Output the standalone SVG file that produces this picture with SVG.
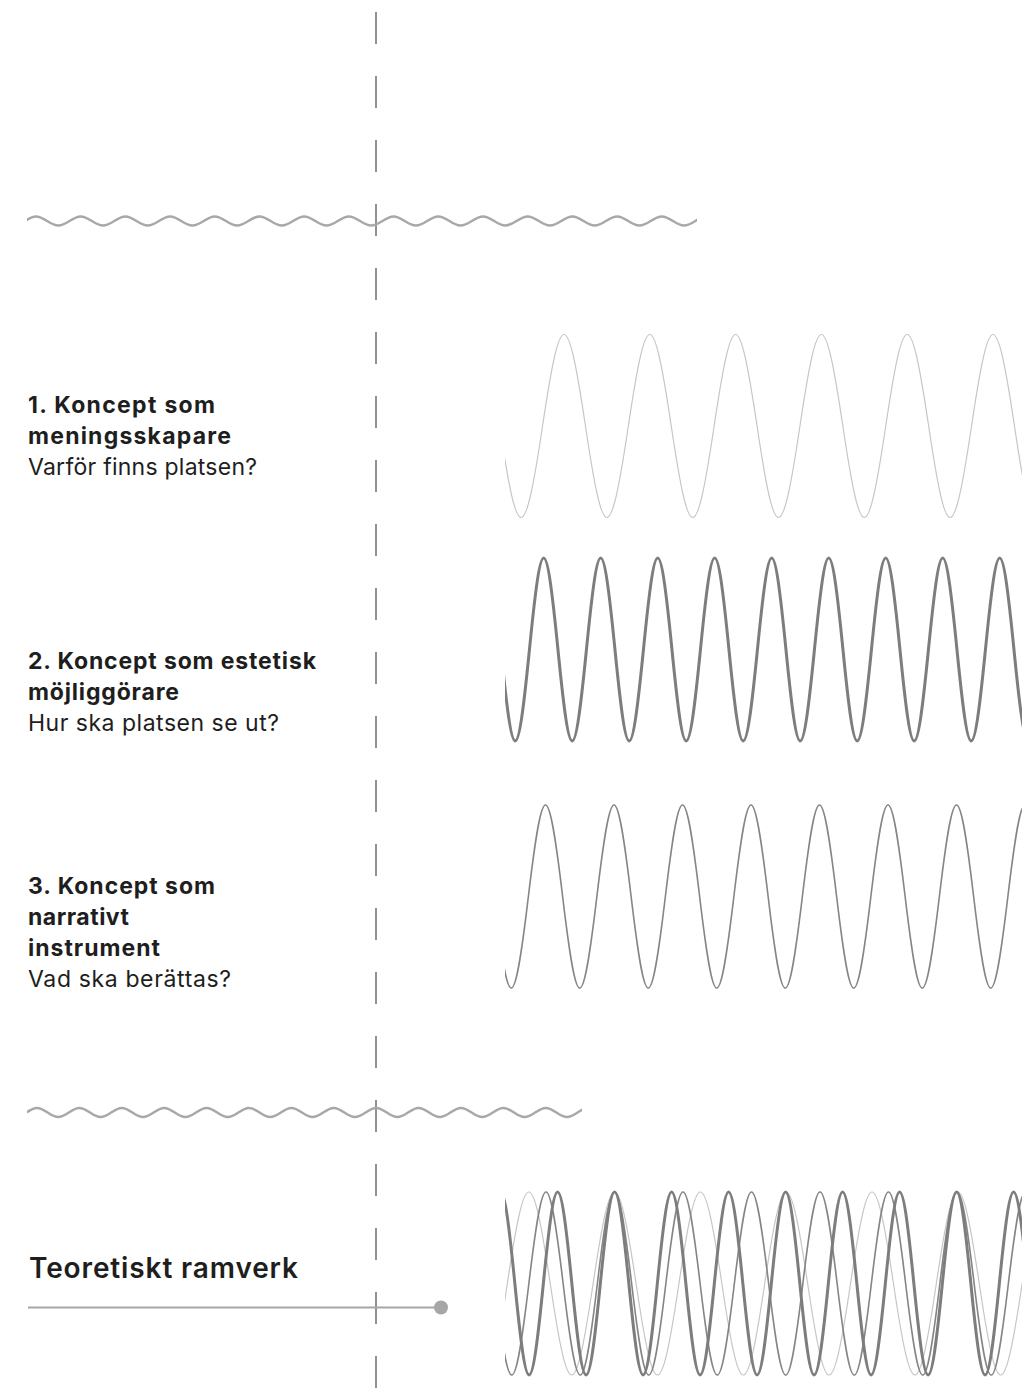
<svg xmlns="http://www.w3.org/2000/svg" xmlns:xlink="http://www.w3.org/1999/xlink" width="1033" height="1393" viewBox="0 0 1033 1393">
<style>
.t{font-family:Inter,"Liberation Sans",Arial,sans-serif;font-size:23px;fill:#1e1e1e}
.b{font-weight:700}
.big{font-family:Inter,"Liberation Sans",Arial,sans-serif;font-size:28px;font-weight:600;fill:#1e1e1e}
.w{fill:none;stroke-linejoin:round}
.light{stroke:#c6c6c6;stroke-width:1.2}
.thick{stroke:#7d7d7d;stroke-width:3}
.mid{stroke:#858585;stroke-width:1.6}
.small{fill:none;stroke:#a8a8a8;stroke-width:2.5}
</style>
<defs>
<clipPath id="cBig"><rect x="505" y="0" width="517" height="1393"/></clipPath>
<clipPath id="cTop"><rect x="27" y="200" width="670" height="40"/></clipPath>
<clipPath id="cBot"><rect x="27" y="1095" width="555" height="40"/></clipPath>
<path id="w57" d="M0,0 c12.1,-122 16.4,-122 28.5,0 s16.4,122 28.5,0 s16.4,-122 28.5,0 s16.4,122 28.5,0 s16.4,-122 28.5,0 s16.4,122 28.5,0 s16.4,-122 28.5,0 s16.4,122 28.5,0 s16.4,-122 28.5,0 s16.4,122 28.5,0 s16.4,-122 28.5,0 s16.4,122 28.5,0 s16.4,-122 28.5,0 s16.4,122 28.5,0 s16.4,-122 28.5,0 s16.4,122 28.5,0 s16.4,-122 28.5,0 s16.4,122 28.5,0 s16.4,-122 28.5,0 s16.4,122 28.5,0"/>
<path id="w68" d="M0,0 c14.54,-122 19.71,-122 34.25,0 s19.71,122 34.25,0 s19.71,-122 34.25,0 s19.71,122 34.25,0 s19.71,-122 34.25,0 s19.71,122 34.25,0 s19.71,-122 34.25,0 s19.71,122 34.25,0 s19.71,-122 34.25,0 s19.71,122 34.25,0 s19.71,-122 34.25,0 s19.71,122 34.25,0 s19.71,-122 34.25,0 s19.71,122 34.25,0 s19.71,-122 34.25,0 s19.71,122 34.25,0 s19.71,-122 34.25,0"/>
<path id="w86" d="M0,0 c18.21,-122 24.69,-122 42.9,0 s24.69,122 42.9,0 s24.69,-122 42.9,0 s24.69,122 42.9,0 s24.69,-122 42.9,0 s24.69,122 42.9,0 s24.69,-122 42.9,0 s24.69,122 42.9,0 s24.69,-122 42.9,0 s24.69,122 42.9,0 s24.69,-122 42.9,0 s24.69,122 42.9,0 s24.69,-122 42.9,0 s24.69,122 42.9,0 s24.69,-122 42.9,0"/>
</defs>
<rect width="1033" height="1393" fill="#ffffff"/>

<g id="divider">
<line x1="376" y1="12" x2="376" y2="1393" stroke="#6e6e6e" stroke-width="1.5" stroke-dasharray="32 32"/>
</g>

<g id="wave-top" clip-path="url(#cTop)">
<path class="small" transform="translate(24.825,221)" d="M0,0 c9.49,-6 12.86,-6 22.35,0 s12.86,6 22.35,0 s12.86,-6 22.35,0 s12.86,6 22.35,0 s12.86,-6 22.35,0 s12.86,6 22.35,0 s12.86,-6 22.35,0 s12.86,6 22.35,0 s12.86,-6 22.35,0 s12.86,6 22.35,0 s12.86,-6 22.35,0 s12.86,6 22.35,0 s12.86,-6 22.35,0 s12.86,6 22.35,0 s12.86,-6 22.35,0 s12.86,6 22.35,0 s12.86,-6 22.35,0 s12.86,6 22.35,0 s12.86,-6 22.35,0 s12.86,6 22.35,0 s12.86,-6 22.35,0 s12.86,6 22.35,0 s12.86,-6 22.35,0 s12.86,6 22.35,0 s12.86,-6 22.35,0 s12.86,6 22.35,0 s12.86,-6 22.35,0 s12.86,6 22.35,0 s12.86,-6 22.35,0 s12.86,6 22.35,0 s12.86,-6 22.35,0"/>
</g>

<g id="wave-bottom" clip-path="url(#cBot)">
<path class="small" transform="translate(26.4,1112.5)" d="M0,0 c9,-6 12.2,-6 21.2,0 s12.2,6 21.2,0 s12.2,-6 21.2,0 s12.2,6 21.2,0 s12.2,-6 21.2,0 s12.2,6 21.2,0 s12.2,-6 21.2,0 s12.2,6 21.2,0 s12.2,-6 21.2,0 s12.2,6 21.2,0 s12.2,-6 21.2,0 s12.2,6 21.2,0 s12.2,-6 21.2,0 s12.2,6 21.2,0 s12.2,-6 21.2,0 s12.2,6 21.2,0 s12.2,-6 21.2,0 s12.2,6 21.2,0 s12.2,-6 21.2,0 s12.2,6 21.2,0 s12.2,-6 21.2,0 s12.2,6 21.2,0 s12.2,-6 21.2,0 s12.2,6 21.2,0 s12.2,-6 21.2,0 s12.2,6 21.2,0 s12.2,-6 21.2,0"/>
</g>

<g id="concept1">
<text class="t b" x="28" y="413" textLength="187" lengthAdjust="spacing">1. Koncept som</text>
<text class="t b" x="28" y="444" textLength="203" lengthAdjust="spacing">meningsskapare</text>
<text class="t" x="28" y="475" textLength="229" lengthAdjust="spacing">Varför finns platsen?</text>
</g>
<g id="wave1" clip-path="url(#cBig)">
<use xlink:href="#w86" href="#w86" class="w light" transform="translate(456.75,426)"/>
</g>

<g id="concept2">
<text class="t b" x="28" y="669" textLength="288" lengthAdjust="spacing">2. Koncept som estetisk</text>
<text class="t b" x="28" y="700" textLength="151" lengthAdjust="spacing">möjliggörare</text>
<text class="t" x="28" y="731" textLength="251" lengthAdjust="spacing">Hur ska platsen se ut?</text>
</g>
<g id="wave2" clip-path="url(#cBig)">
<use xlink:href="#w57" href="#w57" class="w thick" transform="translate(472.45,649.5)"/>
</g>

<g id="concept3">
<text class="t b" x="28" y="894" textLength="187" lengthAdjust="spacing">3. Koncept som</text>
<text class="t b" x="28" y="925" textLength="101" lengthAdjust="spacing">narrativt</text>
<text class="t b" x="28" y="956" textLength="132" lengthAdjust="spacing">instrument</text>
<text class="t" x="28" y="987" textLength="203" lengthAdjust="spacing">Vad ska berättas?</text>
</g>
<g id="wave3" clip-path="url(#cBig)">
<use xlink:href="#w68" href="#w68" class="w mid" transform="translate(459.875,896.5)"/>
</g>

<g id="framework">
<text class="big" x="29" y="1278" textLength="269" lengthAdjust="spacing">Teoretiskt ramverk</text>
</g>
<g id="wave-combined" clip-path="url(#cBig)">
<use xlink:href="#w86" href="#w86" class="w light" transform="translate(421.55,1283.5)"/>
<use xlink:href="#w68" href="#w68" class="w mid" transform="translate(460.375,1283.5)"/>
<use xlink:href="#w57" href="#w57" class="w thick" transform="translate(486.35,1283.5)"/>
</g>

<g id="connectors">
<line x1="28" y1="1307.5" x2="441" y2="1307.5" stroke="#a6a6a6" stroke-width="2"/>
<circle cx="441" cy="1307.5" r="7" fill="#a6a6a6"/>
</g>
</svg>
